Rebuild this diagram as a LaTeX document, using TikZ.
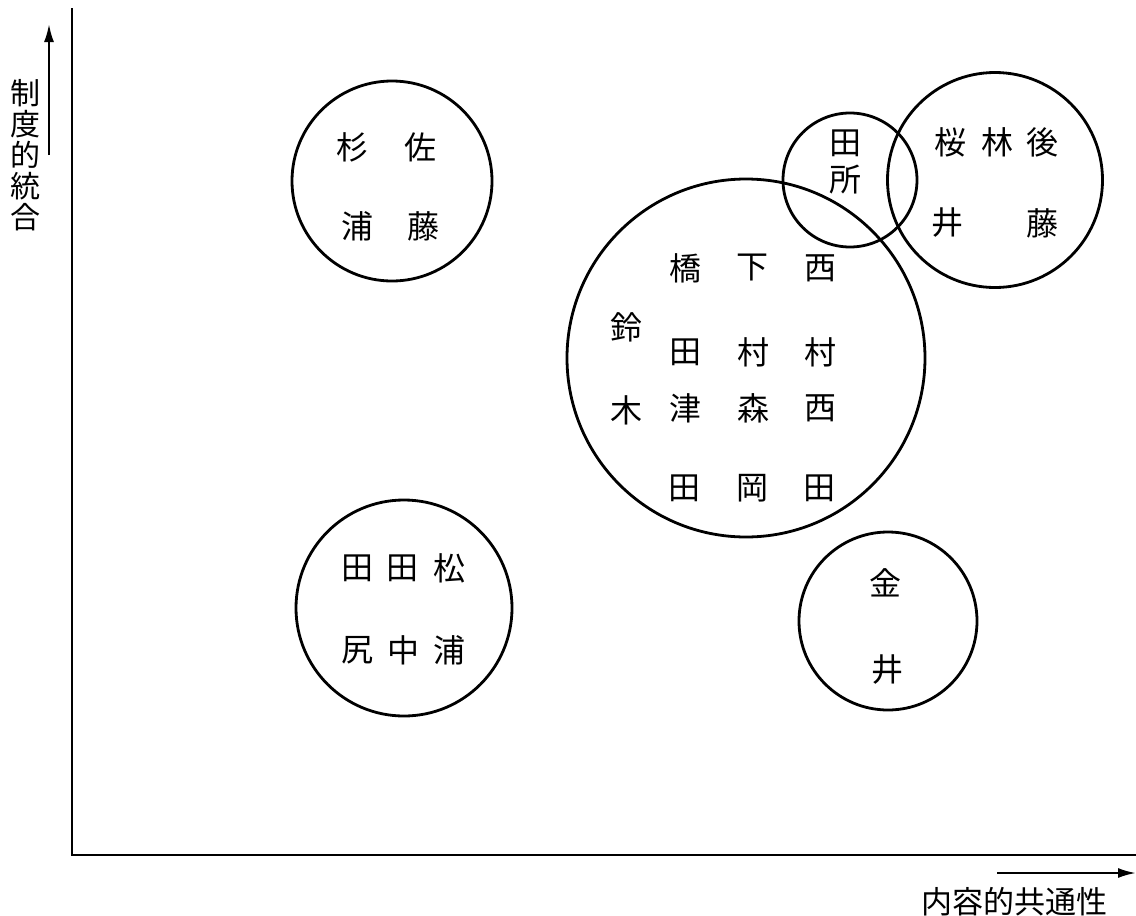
\documentclass[tikz,border=0pt]{standalone}
\usepackage{fontspec}
\newfontfamily\jp{Noto Sans CJK JP}
\usetikzlibrary{arrows.meta}
\tikzset{
  ring/.style={draw, circle, line width=2.8pt, inner sep=0pt},
  nm/.style={font=\jp\fontsize{32}{32}\selectfont, inner sep=0pt, anchor=center},
  axis/.style={line width=2.4pt},
  lab/.style={font=\jp\fontsize{30}{31}\selectfont, inner sep=0pt, align=center},
  arr/.style={line width=2.2pt, -{Latex[length=18pt,width=10pt]}}
}
\begin{document}
\begin{tikzpicture}[x=1pt,y=-1pt]
\useasboundingbox (0,0) rectangle (1136,916);
% axes
\coordinate (ytop) at (72,8);
\coordinate (orig) at (72,855);
\coordinate (xend) at (1136,855);
\draw[axis] (ytop) -- (orig) -- (xend);
% axis labels
\coordinate (ya0) at (49,155);
\coordinate (ya1) at (49,24);
\draw[arr] (ya0) -- (ya1);
\node[lab] (ylab) at (25,155) {制\\度\\的\\統\\合};
\coordinate (xa0) at (997,873);
\coordinate (xa1) at (1136,873);
\draw[arr] (xa0) -- (xa1);
\node[lab, font=\jp\fontsize{31}{31}\selectfont] (xlab) at (1014,902) {内容的共通性};
% circles
\node[ring, minimum size=200pt] (c1) at (392,181) {};
\node[ring, minimum size=358pt] (c2) at (746,358) {};
\node[ring, minimum size=134pt] (c3) at (850,180) {};
\node[ring, minimum size=215pt] (c4) at (995,180) {};
\node[ring, minimum size=216pt] (c5) at (404,608) {};
\node[ring, minimum size=178pt] (c6) at (888,621) {};
% circle 1
\node[nm] (a1) at (352,147) {杉};
\node[nm] (a2) at (420,147) {佐};
\node[nm] (a3) at (357,226) {浦};
\node[nm] (a4) at (423,226) {藤};
% circle 2
\node[nm] (b1) at (685,268) {橋};
\node[nm] (b2) at (752,268) {下};
\node[nm] (b3) at (820,268) {西};
\node[nm] (b4) at (626,327) {鈴};
\node[nm] (b5) at (685,352) {田};
\node[nm] (b6) at (753,352) {村};
\node[nm] (b7) at (820,352) {村};
\node[nm] (b8) at (626,410) {木};
\node[nm] (b9) at (685,408) {津};
\node[nm] (b10) at (753,408) {森};
\node[nm] (b11) at (820,408) {西};
\node[nm] (b12) at (684,488) {田};
\node[nm] (b13) at (752,488) {岡};
\node[nm] (b14) at (819,488) {田};
% circle 3
\node[nm] (d1) at (845,143) {田};
\node[nm] (d2) at (845,180) {所};
% circle 4
\node[nm] (e1) at (950,142) {桜};
\node[nm] (e2) at (997,142) {林};
\node[nm] (e3) at (1042,142) {後};
\node[nm] (e4) at (947,223) {井};
\node[nm] (e5) at (1042,223) {藤};
% circle 5
\node[nm] (f1) at (357,568) {田};
\node[nm] (f2) at (402,568) {田};
\node[nm] (f3) at (449,568) {松};
\node[nm] (f4) at (357,650) {尻};
\node[nm] (f5) at (403,650) {中};
\node[nm] (f6) at (449,650) {浦};
% circle 6
\node[nm] (g1) at (885,583) {金};
\node[nm] (g2) at (887,670) {井};
\end{tikzpicture}
\end{document}
